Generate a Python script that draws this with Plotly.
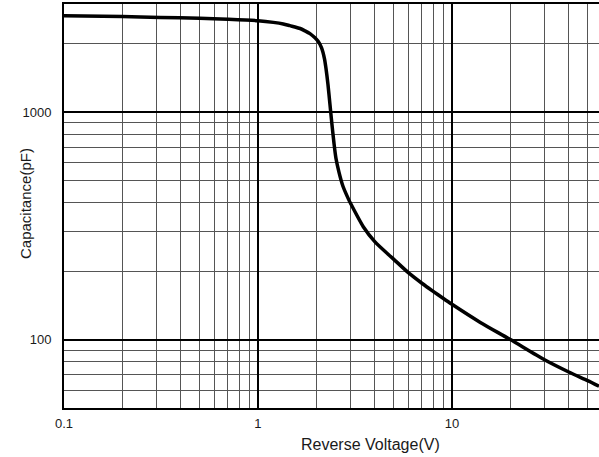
import plotly.graph_objects as go

# Data
voltage = [0.1, 0.2, 0.313, 0.5, 0.7, 1.0, 1.2, 1.35, 1.46, 1.65, 1.747, 1.854, 1.967,
           2.038, 2.125, 2.201, 2.242, 2.295, 2.35, 2.406, 2.465, 2.523, 2.615, 2.742,
           2.944, 3.0, 3.49, 4.0, 5.0, 6.0, 7.0, 8.0, 9.0, 10, 14, 20, 30, 40, 50, 57.3]
capacitance = [2664, 2640, 2618, 2595, 2570, 2532, 2490, 2450, 2408, 2340, 2285, 2221, 2130,
               2060, 1928, 1726, 1560, 1327, 1084, 886, 731, 628, 546, 473,
               411, 398, 314, 270, 226, 196, 177, 163, 152, 143, 119, 100, 81.5, 72, 66, 62.4]

x_major = [0.1, 1, 10]
x_major_text = ["0.1", "1", "10"]
x_minor = [0.2, 0.3, 0.4, 0.5, 0.6, 0.7, 0.8, 0.9,
           2, 3, 4, 5, 6, 7, 8, 9,
           20, 30, 40, 50]
y_major = [100, 1000]
y_major_text = ["100", "1000"]
y_minor = [60, 70, 80, 90, 200, 300, 400, 500, 600, 700, 800, 900, 2000]

x_range = [-1, 1.758]
y_range = [1.699, 3.477]

fig = go.Figure()
fig.add_trace(go.Scatter(
    x=voltage, y=capacitance, mode="lines",
    line=dict(color="black", width=3.5, shape="spline", smoothing=0.7),
    showlegend=False, hoverinfo="skip",
))

font_family = "Liberation Sans, Arial, sans-serif"

fig.update_layout(
    width=599, height=457,
    margin=dict(l=64, r=0, t=4, b=49),
    paper_bgcolor="white", plot_bgcolor="white",
    font=dict(family=font_family, color="#1a1a1a", size=13),
    xaxis=dict(
        type="log", range=x_range,
        tickmode="array", tickvals=x_major, ticktext=x_major_text,
        showgrid=True, gridcolor="black", gridwidth=2,
        minor=dict(tickmode="array", tickvals=x_minor, showgrid=True,
                   gridcolor="#555555", gridwidth=1, ticks=""),
        ticks="", ticklabelstandoff=2,
        showline=True, linecolor="black", linewidth=2, mirror=True,
        zeroline=False,
        tickfont=dict(size=13, color="#1a1a1a"),
    ),
    yaxis=dict(
        type="log", range=y_range,
        tickmode="array", tickvals=y_major, ticktext=y_major_text,
        showgrid=True, gridcolor="black", gridwidth=2,
        minor=dict(tickmode="array", tickvals=y_minor, showgrid=True,
                   gridcolor="#555555", gridwidth=1, ticks=""),
        ticks="", ticklabelstandoff=8,
        showline=True, linecolor="black", linewidth=2, mirror=False,
        zeroline=False,
        tickfont=dict(size=13, color="#1a1a1a"),
    ),
    annotations=[
        dict(text="Reverse Voltage(V)", xref="paper", yref="paper",
             x=(370 - 64) / 535, y=-(444 - 408) / 404, xanchor="center",
             yanchor="middle", showarrow=False,
             font=dict(size=16, family=font_family, color="#1a1a1a")),
        dict(text="Capacitance(pF)", xref="paper", yref="paper",
             x=-(64 - 25) / 535, y=(408 - 204) / 404, xanchor="center",
             yanchor="middle", showarrow=False, textangle=-90,
             font=dict(size=15, family=font_family, color="#1a1a1a")),
    ],
)

fig.write_html("out.html", config={"displayModeBar": False},
               post_script="document.body.style.margin='0';document.body.style.padding='0';")
